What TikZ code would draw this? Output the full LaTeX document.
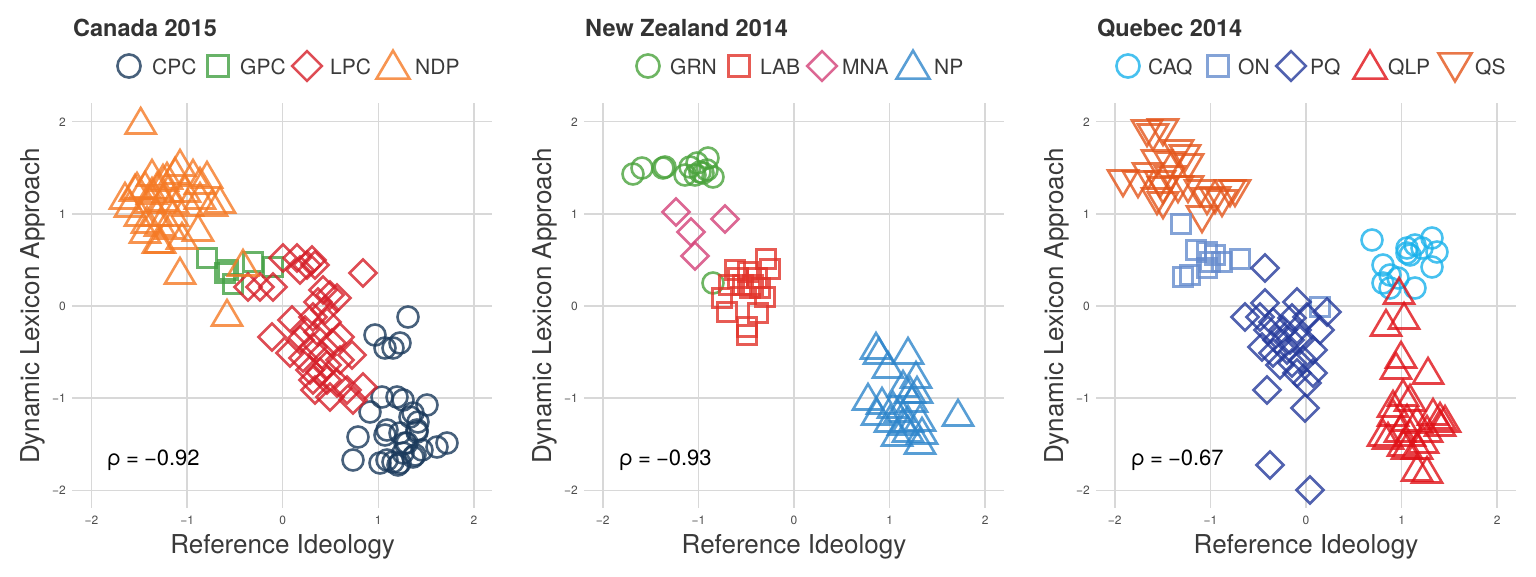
\documentclass[tikz,border=0pt]{standalone}
\usepackage{fontspec}
\setmainfont{TeX Gyre Heros}
\definecolor{cCPC}{HTML}{1B3A5C}
\definecolor{cGPC}{HTML}{43A043}
\definecolor{cLPC}{HTML}{D6202A}
\definecolor{cNDP}{HTML}{F57A25}
\definecolor{cGRN}{HTML}{4AA33C}
\definecolor{cLAB}{HTML}{E2332A}
\definecolor{cMNA}{HTML}{D44278}
\definecolor{cNP}{HTML}{2F86CB}
\definecolor{cCAQ}{HTML}{1AB2EC}
\definecolor{cON}{HTML}{668CCE}
\definecolor{cPQ}{HTML}{263B9C}
\definecolor{cQLP}{HTML}{E01218}
\definecolor{cQS}{HTML}{E4561B}
\definecolor{gridc}{HTML}{D8D8D8}
\definecolor{tickc}{HTML}{4D4D4D}
\definecolor{axc}{HTML}{3A3A3A}
\definecolor{ttlc}{HTML}{333333}
\tikzset{
  mk/.style={line width=2.6pt, draw opacity=0.8, line join=miter},
  sCPC/.style={mk, draw=cCPC}, sGPC/.style={mk, draw=cGPC},
  sLPC/.style={mk, draw=cLPC}, sNDP/.style={mk, draw=cNDP},
  sGRN/.style={mk, draw=cGRN}, sLAB/.style={mk, draw=cLAB},
  sMNA/.style={mk, draw=cMNA}, sNP/.style={mk, draw=cNP},
  sCAQ/.style={mk, draw=cCAQ}, sON/.style={mk, draw=cON},
  sPQ/.style={mk, draw=cPQ}, sQLP/.style={mk, draw=cQLP}, sQS/.style={mk, draw=cQS},
  gridl/.style={draw=gridc, line width=1.5pt},
  ticklab/.style={font=\fontsize{12}{12}\selectfont, text=tickc, inner sep=0pt},
  axt/.style={font=\fontsize{26}{26}\selectfont, text=axc, inner sep=0pt},
  ttl/.style={font=\bfseries\fontsize{23.5}{24}\selectfont, text=ttlc, inner sep=0pt},
  leg/.style={font=\fontsize{21}{21}\selectfont, text=axc, inner sep=0pt},
  rholab/.style={font=\fontsize{22}{22}\selectfont, text=black, inner sep=0pt},
}
\newcommand\mcirc[3]{\draw[#1] (#2,#3) circle[radius=10.5pt];}
\newcommand\msq[3]{\draw[#1] (#2-9.5,#3-9.5) rectangle (#2+9.5,#3+9.5);}
\newcommand\mdia[3]{\draw[#1] (#2,#3-13.5) -- (#2+13.5,#3) -- (#2,#3+13.5) -- (#2-13.5,#3) -- cycle;}
\newcommand\mtri[3]{\draw[#1] (#2,#3-14) -- (#2+15,#3+11.5) -- (#2-15,#3+11.5) -- cycle;}
\newcommand\mitri[3]{\draw[#1] (#2,#3+14) -- (#2+15,#3-11.5) -- (#2-15,#3-11.5) -- cycle;}
\newcommand\gridpanel[2]{%
  \foreach \k in {-2,...,2} {
    \draw[gridl] (#2+95.6*\k,103) -- (#2+95.6*\k,508);
    \draw[gridl] (#1,306-92.2*\k) -- (#1+420,306-92.2*\k);
  }
  \foreach \k/\l in {-2/−2,-1/−1,0/0,1/1,2/2} {
    \node[ticklab, anchor=base] at (#2+95.6*\k,524.5) {\l};
    \node[ticklab, anchor=base east] at (#1-6,310.5-92.2*\k) {\l};
  }
  \node[axt, anchor=base] at (#2,553) {Reference Ideology};
  \node[axt, anchor=base, rotate=90] at (#1-33,306) {Dynamic Lexicon Approach};
}
\begin{document}
\begin{tikzpicture}[x=1pt,y=-1pt]
\useasboundingbox (0,0) rectangle (1536,576);
\fill[white] (0,0) rectangle (1536,576);
% ---------- grids and axes
\gridpanel{72}{282.7}
\gridpanel{584}{794}
\gridpanel{1096}{1306}
% ---------- Canada
\foreach \x/\y in {408/317,375/335,385/348,400/343,393/348,382/397,397/397,403/400,427/405,370/412,413/413,410/417,418/422,387/430,400/433,417/432,358/437,407/443,447/443,437/447,422/450,403/453,353/460,387/460,393/462,400/463,413/457,380/463,385/435,398/465,405/443,415/455,417/430}{\mcirc{sCPC}{\x}{\y}}
\foreach \x/\y in {207/258,225/273,233/284,253/262,273/267,228/270}{\msq{sGPC}{\x}{\y}}
\foreach \x/\y in {297/258,312/260,315/265,300/270,273/287,248/287,363/273,323/290,330/295,337/298,318/302,292/320,313/317,327/322,272/337,300/340,318/332,340/337,332/343,313/347,290/353,303/358,322/355,352/355,340/360,327/365,310/370,313/380,327/380,337/383,315/390,330/397,347/390,363/387,353/400,307/265,260/287,283/258,325/310,305/330,320/372}{\mdia{sLPC}{\x}{\y}}
\foreach \x/\y in {140.7/122,180/164,152/174,125/197,135/189,193/174,207/176,200/182,163/179,220/201,212/204,198/229,182/237,160/241,145/231,180/272,227/314,243/264,137/187,145/186,157/187,167/177,175/172,150/201,163/199,173/201,140/214,157/214,173/214,188/204,200/197,147/221,160/224,170/227,158/241,130/205,185/190,152/192,168/190}{\mtri{sNDP}{\x}{\y}}
% ---------- New Zealand
\foreach \x/\y in {633/174,642/168,663/168,665/167,685/175,697/163,708/158,700/172,703/173,707/170,713/177,695/175,690/167,713/283}{\mcirc{sGRN}{\x}{\y}}
\foreach \x/\y in {676/212,725/219,691/232,695/256}{\mdia{sMNA}{\x}{\y}}
\foreach \x/\y in {735/270,766/259,770/269,748/272,729/285,743/285,753/285,760/288,765/297,722/298,727/312,758/313,747/327,747/335,757/278,750/288,738/278}{\msq{sLAB}{\x}{\y}}
\foreach \x/\y in {876/347,879/352,908/352,888/366,916/376,868/398,903/385,917/391,910/391,882/402,958/414,893/406,900/410,920/419,908/420,890/420,920/442,908/430,897/434,922/432,877/413,903/423,912/400}{\mtri{sNP}{\x}{\y}}
% ---------- Quebec
\foreach \x/\y in {1147/132,1163/131,1153/136,1178/152,1185/157,1188/166,1157/162,1170/164,1148/175,1123/182,1138/183,1160/183,1163/189,1178/188,1188/188,1200/192,1207/200,1215/199,1235/192,1230/192,1222/202,1163/204,1157/200,1202/218,1170/178}{\mitri{sQS}{\x}{\y}}
\foreach \x/\y in {1181/224,1196/250,1207/252,1215/255,1222/262,1240/259,1207/268,1183/277,1190/275,1320/307,1210/262}{\msq{sON}{\x}{\y}}
\foreach \x/\y in {1265/268,1265/303,1297/302,1327/312,1245/317,1260/317,1273/322,1292/318,1307/317,1320/330,1262/347,1277/340,1287/350,1300/340,1313/350,1273/353,1280/365,1292/363,1303/360,1313/373,1297/373,1307/383,1267/390,1305/408,1270/465,1310/490,1283/330,1297/330,1268/330,1290/340}{\mdia{sPQ}{\x}{\y}}
\foreach \x/\y in {1372/240,1407/248,1415/245,1432/238,1437/252,1410/255,1422/248,1383/265,1432/267,1390/275,1398/278,1383/283,1390/288,1415/288,1407/253}{\mcirc{sCAQ}{\x}{\y}}
\foreach \x/\y in {1399/292,1404/317,1386/324,1401/356,1396/367,1428/372,1403/394,1410/399,1393/405,1433/413,1445/420,1393/414,1407/419,1417/421,1440/417,1383/434,1400/430,1410/434,1427/430,1423/441,1388/437,1403/444,1417/447,1407/447,1417/469,1427/471,1440/424}{\mtri{sQLP}{\x}{\y}}
% ---------- correlation labels
\node[rholab, anchor=base west] (rhoC) at (107,465) {ρ\kern5pt=\kern5pt−0.92};
\node[rholab, anchor=base west] (rhoN) at (619,465) {ρ\kern5pt=\kern5pt−0.93};
\node[rholab, anchor=base west] (rhoQ) at (1131,465) {ρ\kern5pt=\kern5pt−0.67};
% ---------- titles
\node[ttl, anchor=base west] (tC) at (73,36) {Canada 2015};
\node[ttl, anchor=base west] (tN) at (585,36) {New Zealand 2014};
\node[ttl, anchor=base west] (tQ) at (1097,36) {Quebec 2014};
% ---------- legends
\begin{scope}[shift={(129,66)},scale=1.1]\mcirc{sCPC}{0}{0}\end{scope}
\begin{scope}[shift={(218,66)},scale=1.1]\msq{sGPC}{0}{0}\end{scope}
\begin{scope}[shift={(307,66)},scale=1.1]\mdia{sLPC}{0}{0}\end{scope}
\begin{scope}[shift={(393,66)},scale=1.1]\mtri{sNDP}{0}{0}\end{scope}
\node[leg, anchor=base west] (lCPC) at (152,74) {CPC};
\node[leg, anchor=base west] (lGPC) at (240,74) {GPC};
\node[leg, anchor=base west] (lLPC) at (330,74) {LPC};
\node[leg, anchor=base west] (lNDP) at (415,74) {NDP};
\begin{scope}[shift={(648,66)},scale=1.1]\mcirc{sGRN}{0}{0}\end{scope}
\begin{scope}[shift={(739,66)},scale=1.1]\msq{sLAB}{0}{0}\end{scope}
\begin{scope}[shift={(822,66)},scale=1.1]\mdia{sMNA}{0}{0}\end{scope}
\begin{scope}[shift={(913,66)},scale=1.1]\mtri{sNP}{0}{0}\end{scope}
\node[leg, anchor=base west] (lGRN) at (670,74) {GRN};
\node[leg, anchor=base west] (lLAB) at (760,74) {LAB};
\node[leg, anchor=base west] (lMNA) at (842,74) {MNA};
\node[leg, anchor=base west] (lNP) at (934,74) {NP};
\begin{scope}[shift={(1128,66)},scale=1.1]\mcirc{sCAQ}{0}{0}\end{scope}
\begin{scope}[shift={(1218,66)},scale=1.1]\msq{sON}{0}{0}\end{scope}
\begin{scope}[shift={(1291,66)},scale=1.1]\mdia{sPQ}{0}{0}\end{scope}
\begin{scope}[shift={(1370,66)},scale=1.1]\mtri{sQLP}{0}{0}\end{scope}
\begin{scope}[shift={(1455,66)},scale=1.1]\mitri{sQS}{0}{0}\end{scope}
\node[leg, anchor=base west] (lCAQ) at (1148,74) {CAQ};
\node[leg, anchor=base west] (lON) at (1238,74) {ON};
\node[leg, anchor=base west] (lPQ) at (1310,74) {PQ};
\node[leg, anchor=base west] (lQLP) at (1388,74) {QLP};
\node[leg, anchor=base west] (lQS) at (1475,74) {QS};
\end{tikzpicture}
\end{document}
